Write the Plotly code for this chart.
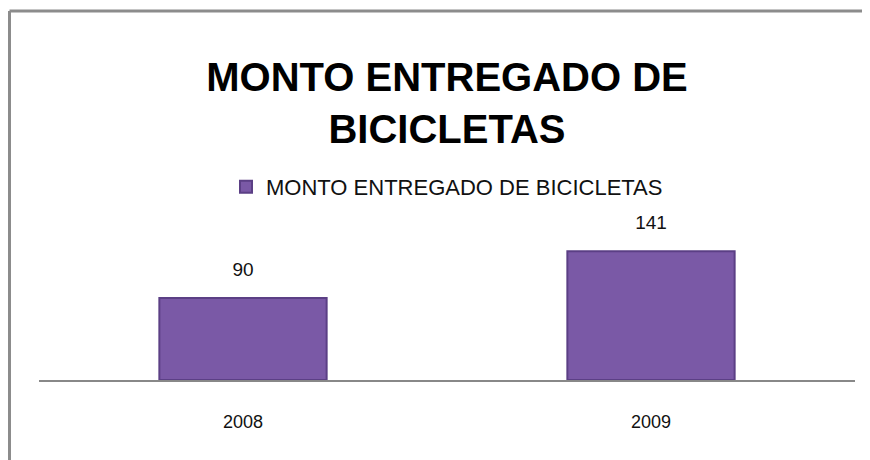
import plotly.graph_objects as go

# --- dados ---
anos = ["2008", "2009"]
bicicletas = [90, 141]
serie = "MONTO ENTREGADO DE BICICLETAS"

fig = go.Figure()
fig.add_trace(go.Bar(
    x=anos, y=bicicletas, name=serie,
    marker=dict(color="#7a59a6", line=dict(color="#5b3f85", width=2)),
    width=0.41, showlegend=True,
))
# rótulos de valor um pouco acima das barras
fig.add_trace(go.Scatter(
    x=anos, y=bicicletas, mode="markers+text", text=[str(v) for v in bicicletas],
    textposition="top center", textfont=dict(size=19, color="#111"),
    marker=dict(size=26, color="rgba(0,0,0,0)"), showlegend=False, hoverinfo="skip",
    cliponaxis=False,
))

fig.update_layout(
    width=870, height=460,
    margin=dict(l=31, r=23, t=226, b=88),
    paper_bgcolor="white", plot_bgcolor="white",
    font=dict(family="Liberation Sans, Arial, sans-serif", color="#111"),
    title=dict(text="<b>MONTO ENTREGADO DE<br>BICICLETAS</b>", x=(447 - 8) / 870, xanchor="center",
               y=1 - 83 / 460, yanchor="middle", yref="container",
               font=dict(size=40, color="#000")),
    legend=dict(orientation="h", x=0.5, xanchor="center", y=(372 - 179) / 146, yanchor="middle",
                font=dict(size=22), itemwidth=30),
    xaxis=dict(showline=True, linecolor="#888", linewidth=2, tickfont=dict(size=18),
               ticks="", ticklabelstandoff=24, showgrid=False),
    yaxis=dict(range=[0, 160], visible=False, showgrid=False, zeroline=False),
    # moldura cinza (só topo e lado esquerdo visíveis)
    shapes=[
        dict(type="line", xref="paper", yref="paper", x0=-29.5 / 816, x1=2, y0=369 / 146, y1=369 / 146,
             line=dict(color="#8c8c8c", width=3)),
        dict(type="line", xref="paper", yref="paper", x0=-29.5 / 816, x1=-29.5 / 816, y0=369 / 146, y1=-2,
             line=dict(color="#8c8c8c", width=3)),
    ],
)

fig.write_html("out.html")
